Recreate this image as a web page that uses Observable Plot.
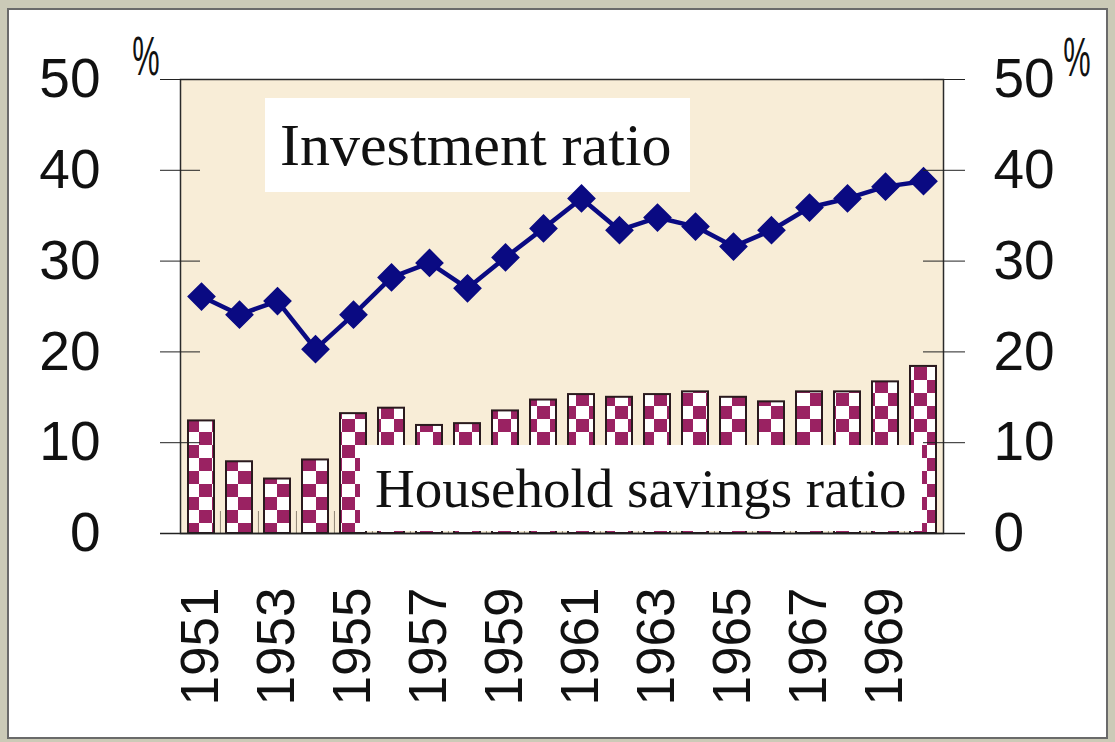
<!DOCTYPE html>
<html>
<head>
<meta charset="utf-8">
<script src="https://cdn.jsdelivr.net/npm/d3@7"></script>
<script src="https://cdn.jsdelivr.net/npm/@observablehq/plot@0.6"></script>
<style>
  html, body { margin: 0; padding: 0; background: #cbcab7; }
  #wrap { position: relative; width: 1115px; height: 742px; overflow: hidden; }
  #panel { position: absolute; left: 7px; top: 8px; width: 1097px; height: 727px; background: #fff; border: 2px solid #6a6a6a; }
  #chart { position: absolute; left: 0; top: 0; }
</style>
</head>
<body>
<div id="wrap"><div id="panel"></div><div id="chart"></div></div>
<script>
// ---- data ----
const years = [1951, 1952, 1953, 1954, 1955, 1956, 1957, 1958, 1959, 1960,
               1961, 1962, 1963, 1964, 1965, 1966, 1967, 1968, 1969, 1970];
const investmentRatio = [26.1, 24.1, 25.6, 20.3, 24.1, 28.2, 29.8, 27.0, 30.4, 33.6,
                         36.9, 33.4, 34.8, 33.8, 31.6, 33.4, 35.9, 36.9, 38.2, 38.8];
const householdSavingsRatio = [12.4, 7.9, 6.0, 8.1, 13.2, 13.8, 11.9, 12.1, 13.5, 14.7,
                               15.3, 15.0, 15.3, 15.6, 15.0, 14.5, 15.6, 15.6, 16.7, 18.4];
const yTicks = [0, 10, 20, 30, 40, 50];
const xTickYears = [1951, 1953, 1955, 1957, 1959, 1961, 1963, 1965, 1967, 1969];
const seriesLabels = ["Investment ratio", "Household savings ratio"];
const unitLabel = "%";

const data = years.map((year, i) => ({year, investment: investmentRatio[i], savings: householdSavingsRatio[i]}));

// ---- layout ----
const W = 1115, H = 742;
const mL = 180, mR = 172, mT = 79, mB = 209;
const frameW = W - mL - mR;
const frameH = H - mT - mB;
const step = frameW / years.length;

const navy = "#0a0a82";
const maroon = "#9a2262";

// defs: checkerboard pattern for the bars
const patternDefs = () => {
  const defs = d3.create("svg:defs");
  const p = defs.append("pattern")
    .attr("id", "checker")
    .attr("patternUnits", "userSpaceOnUse")
    .attr("x", mL + 6).attr("y", mT + 2)
    .attr("width", 26).attr("height", 26);
  p.append("rect").attr("width", 26).attr("height", 26).attr("fill", "#fff");
  p.append("rect").attr("width", 13).attr("height", 13).attr("fill", maroon);
  p.append("rect").attr("x", 13).attr("y", 13).attr("width", 13).attr("height", 13).attr("fill", maroon);
  return defs.node();
};

// white annotation box with serif label
const labelBox = (text, bx, by, bw, bh, tx, ty, fs) => () => {
  const g = d3.create("svg:g");
  g.append("rect").attr("x", bx).attr("y", by).attr("width", bw).attr("height", bh).attr("fill", "#fff");
  g.append("text").attr("x", tx).attr("y", ty)
    .attr("text-anchor", "start")
    .attr("font-family", "'Liberation Serif', 'Times New Roman', serif")
    .attr("font-size", fs).attr("fill", "#111").text(text);
  return g.node();
};

// "%" unit labels (condensed glyph)
const unitMarks = () => {
  const g = d3.create("svg:g")
    .attr("font-family", "'Liberation Sans', Arial, sans-serif")
    .attr("fill", "#111");
  [[146, 75], [1077, 76]].forEach(([x, y]) => {
    g.append("text")
      .attr("transform", `translate(${x},${y}) scale(0.55,1)`)
      .attr("text-anchor", "middle")
      .attr("font-size", 56)
      .text(unitLabel);
  });
  return g.node();
};

const chart = Plot.plot({
  width: W,
  height: H,
  marginLeft: mL,
  marginRight: mR,
  marginTop: mT,
  marginBottom: mB,
  style: {background: "transparent", fontFamily: "'Liberation Sans', Arial, sans-serif", color: "#111"},
  x: {type: "band", domain: years, paddingInner: 0.32, paddingOuter: 0.16, axis: null},
  y: {domain: [0, 50], axis: null},
  marks: [
    patternDefs,
    Plot.frame({fill: "#f8edd7"}),
    // small separators between bars at the bottom
    Plot.ruleX(years.slice(1), {x: d => d, dx: -step / 2, insetTop: frameH - 22, stroke: "#8f8474", strokeWidth: 1}),
    Plot.barY(data, {x: "year", y: "savings", fill: "url(#checker)", stroke: "#2a1a1e", strokeWidth: 2}),
    labelBox(seriesLabels[1], 360, 445, 562, 86, 375, 507, 55),
    labelBox(seriesLabels[0], 265, 98, 425, 94, 280, 165, 60),
    Plot.line(data, {x: "year", y: "investment", stroke: navy, strokeWidth: 4.5}),
    Plot.dot(data, {x: "year", y: "investment", symbol: "diamond2", r: 12, fill: navy, stroke: navy}),
    Plot.frame({stroke: "#2a2a2a", strokeWidth: 1.5}),
    Plot.ruleY(yTicks, {y: d => d, insetLeft: -20, insetRight: frameW - 20, stroke: "#222"}),
    Plot.ruleY(yTicks, {y: d => d, insetLeft: frameW - 20, insetRight: -22, stroke: "#222"}),
    Plot.ruleY([0], {y: d => d, insetLeft: -20, insetRight: -22, stroke: "#222", strokeWidth: 1.5}),
    Plot.axisY({anchor: "left", ticks: yTicks, tickSize: 0, tickPadding: 80, fontSize: 55, label: null}),
    Plot.axisY({anchor: "right", ticks: yTicks, tickSize: 0, tickPadding: 50, fontSize: 55, label: null}),
    Plot.axisX({ticks: xTickYears, tickRotate: -90, tickSize: 0, tickPadding: 54, fontSize: 53,
                tickFormat: d => String(d), label: null}),
    unitMarks
  ]
});

document.getElementById("chart").appendChild(chart);
</script>
</body>
</html>
